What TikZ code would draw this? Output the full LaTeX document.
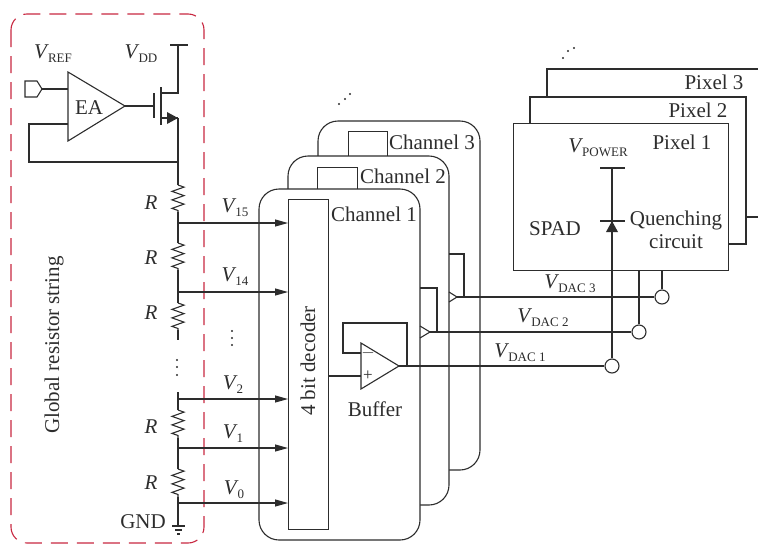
\documentclass[tikz,border=0pt]{standalone}
\usepackage{fontspec}
\setmainfont{Liberation Serif}
\usetikzlibrary{arrows.meta,decorations.pathmorphing}
\definecolor{dashred}{RGB}{200,40,65}
\definecolor{inkgray}{RGB}{45,45,45}
\newcommand{\vsub}[1]{\textit{V}\kern-1pt\raisebox{-4pt}{\fontsize{13}{13}\selectfont #1}}
\begin{document}
\begin{tikzpicture}[
        x=1pt, y=-1pt, line width=1.1pt, draw=inkgray, text=inkgray,
        every node/.style={font=\fontsize{21}{23}\selectfont, inner sep=0pt},
        chan/.style={draw, fill=white, rounded corners=20pt},
        box/.style={draw, fill=white},
        res/.style={decorate, decoration={zigzag, segment length=8.5pt, amplitude=6pt}},
        wire/.style={-{Triangle[length=13pt,width=7pt]}},
        tap/.style={circle, draw, fill=white, minimum size=14pt},
        lbl/.style={anchor=center},
        dotmark/.style={circle, fill=inkgray, minimum size=2.2pt}
    ]
    \useasboundingbox (0,0) rectangle (758,544);
    % resistor string frame
    \draw[dashred, dash pattern=on 17pt off 9pt, rounded corners=16pt] (11,14) rectangle (204,543);
    \node[rotate=90] (strlabel) at (54,345) {Global resistor string};
    % error amplifier and pass device
    \coordinate (eatl) at (68,72);
    \coordinate (eabl) at (68,141);
    \coordinate (eatip) at (125,106);
    \draw (eatl) -- (eatip) -- (eabl) -- cycle;
    \node (ea) at (89,108) {EA};
    \node[lbl] (vref) at (53,54) {\vsub{REF}};
    \node[lbl] (vdd) at (141,54) {\vsub{DD}};
    \draw (25,81) -- (37,81) -- (42,89) -- (37,97) -- (25,97) -- cycle;
    \coordinate (refpin) at (42,89);
    \coordinate (eaplus) at (68,89);
    \coordinate (eaminus) at (68,124);
    \coordinate (gate) at (154,106);
    \coordinate (drain) at (178,93);
    \coordinate (source) at (178,118);
    \coordinate (vddtop) at (178,45);
    \coordinate (fbnode) at (178,162);
    \draw (refpin) -- (eaplus);
    \draw (eatip) -- (gate);
    \draw (154,93) -- (154,118);
    \draw (161,87) -- (161,125);
    \draw (161,93) -- (drain) -- (vddtop);
    \draw (170,45) -- (188,45);
    \draw (161,118) -- (source);
    \fill[inkgray] (167,112) -- (178,118) -- (167,124) -- cycle;
    \draw (eaminus) -- (29,124) -- (29,162) -- (fbnode);
    % divider
    \coordinate (r1a) at (178,185); \coordinate (r1b) at (178,212);
    \coordinate (r2a) at (178,243); \coordinate (r2b) at (178,270);
    \coordinate (r3a) at (178,303); \coordinate (r3b) at (178,330);
    \coordinate (r4a) at (178,410); \coordinate (r4b) at (178,438);
    \coordinate (r5a) at (178,469); \coordinate (r5b) at (178,497);
    \coordinate (wiretop) at (178,340);
    \coordinate (wirelow) at (178,392);
    \coordinate (gnd) at (178,526);
    \draw (source) -- (fbnode) -- (r1a);
    \draw[res] (r1a) -- (r1b);
    \draw (r1b) -- (r2a);
    \draw[res] (r2a) -- (r2b);
    \draw (r2b) -- (r3a);
    \draw[res] (r3a) -- (r3b);
    \draw (r3b) -- (wiretop);
    \draw (wirelow) -- (r4a);
    \draw[res] (r4a) -- (r4b);
    \draw (r4b) -- (r5a);
    \draw[res] (r5a) -- (r5b);
    \draw (r5b) -- (gnd);
    \draw (172,526) -- (185,526) (175,530) -- (182,530) (177,534) -- (180,534);
    \node[lbl] (gndlabel) at (143,522) {GND};
    \foreach \y/\n in {203/a,258/b,313/c,427/d,483/e}
        \node[lbl] (rlabel\n) at (151,\y) {\textit{R}};
    % channels
    \draw[chan] (318,300) |- (480,121) |- (300,470);
    \node[box, minimum width=39pt, minimum height=30pt, anchor=north west] (dec3) at (348,131) {};
    \node[lbl] (chan3) at (432,142) {Channel 3};
    \draw[chan] (288,300) |- (449,156) |- (300,505);
    \node[box, minimum width=40pt, minimum height=30pt, anchor=north west] (dec2) at (317,167) {};
    \node[lbl] (chan2) at (403,176) {Channel 2};
    \draw[chan] (259,189) rectangle (420,540);
    \node[box, minimum width=40pt, minimum height=330pt, anchor=north west] (dec1) at (288,199) {};
    \node[rotate=90] (declabel) at (308,361) {4 bit decoder};
    \node[lbl] (chan1) at (374,214) {Channel 1};
    % taps into decoder
    \foreach \y/\t/\n in {223/15/a,292/14/b,399/2/c,448/1/d,503/0/e} {
        \coordinate (tap\n) at (178,\y);
        \coordinate (dec\n) at (288,\y);
        \draw[wire] (tap\n) -- (dec\n);
    }
    \node[lbl] (v15) at (235,208) {\vsub{15}};
    \node[lbl] (v14) at (235,277) {\vsub{14}};
    \node[lbl] (v2) at (233,385) {\vsub{2}};
    \node[lbl] (v1) at (233,434) {\vsub{1}};
    \node[lbl] (v0) at (234,490) {\vsub{0}};
    \foreach \y in {331,338,345}
        \node[dotmark] (ldot\y) at (232,\y) {};
    \foreach \y in {360,367,375}
        \node[dotmark] (rdot\y) at (177,\y) {};
    \foreach \x/\y in {339/104,345/99,350/94,563/58,568/51,574/48}
        \node[dotmark] (sdot\x) at (\x,\y) {};
    % pixels
    \draw (547,97) |- (758,69);
    \draw (746,217) -- (758,217);
    \node[lbl] (pix3) at (714,82) {Pixel 3};
    \draw[box] (530,123) |- (746,97) |- (728,244);
    \node[lbl] (pix2) at (698,110) {Pixel 2};
    \node[box, minimum width=215pt, minimum height=147pt, anchor=north west] (pix1) at (513,123) {};
    \node[lbl] (pix1label) at (682,142) {Pixel 1};
    \node[lbl] (vpower) at (598,148) {\vsub{POWER}};
    \node[lbl] (spad) at (555,229) {SPAD};
    \node[lbl, align=center] (quench) at (676,230) {Quenching\\circuit};
    % buffer
    \coordinate (bufltop) at (361,343);
    \coordinate (buflbot) at (361,389);
    \coordinate (buftip) at (399,366);
    \draw (bufltop) -- (buftip) -- (buflbot) -- cycle;
    \node[lbl] (plus) at (368,376) {\fontsize{17}{17}\selectfont +};
    \node[lbl] (minus) at (368,353) {\fontsize{17}{17}\selectfont $-$};
    \node[lbl] (buflabel) at (375,409) {Buffer};
    \coordinate (decout) at (328,376);
    \coordinate (bufplus) at (361,376);
    \coordinate (bufminus) at (361,353);
    \draw (decout) -- (bufplus);
    \draw (bufminus) -- (343,353) -- (343,323) -- (407,323) -- (407,366);
    % dac rails
    \node[tap] (dac1) at (612,366) {};
    \node[tap] (dac2) at (639,332) {};
    \node[tap] (dac3) at (662,297) {};
    \draw (buftip) -- (dac1);
    \coordinate (tip2) at (430,332);
    \coordinate (tip3) at (457,297);
    \draw (tip2) -- (dac2);
    \draw (tip3) -- (dac3);
    \draw (420,326) -- (tip2) -- (420,338);
    \draw (449,292) -- (tip3) -- (449,302);
    \draw (437,332) -- (437,288) -- (420,288);
    \draw (464,297) -- (464,254) -- (449,254);
    \node[lbl] (vdac3) at (570,284) {\vsub{DAC 3}};
    \node[lbl] (vdac2) at (543,318) {\vsub{DAC 2}};
    \node[lbl] (vdac1) at (520,353) {\vsub{DAC 1}};
    \draw (dac2) -- (639,270);
    \draw (dac3) -- (662,270);
    % spad
    \coordinate (powertop) at (612,168);
    \draw (600,168) -- (625,168);
    \draw (600,221) -- (625,221);
    \draw (powertop) -- (dac1);
    \fill[inkgray] (612,221) -- (618,232) -- (606,232) -- cycle;
\end{tikzpicture}
\end{document}
